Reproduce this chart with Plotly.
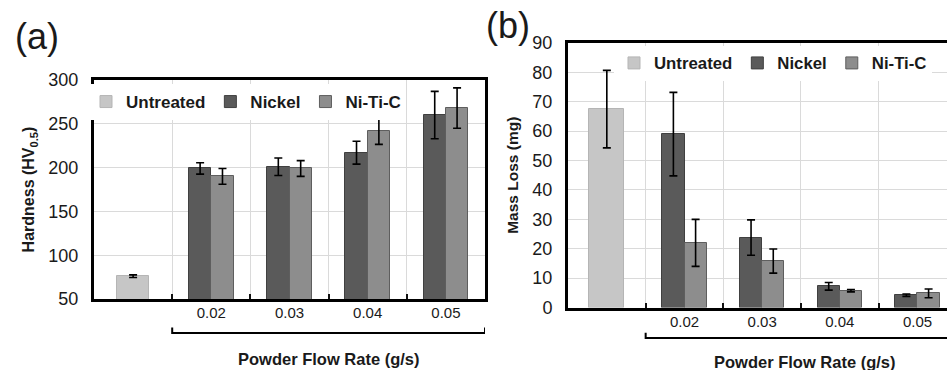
import plotly.graph_objects as go

# ---- data ----
categories = ["Untreated", "0.02", "0.03", "0.04", "0.05"]
flow_rates = ["0.02", "0.03", "0.04", "0.05"]
tick_text = ["", "0.02", "0.03", "0.04", "0.05"]

hard_untreated = [76]
hard_untreated_err = [1.5]
hard_nickel = [199, 201, 217, 260]
hard_nickel_err = [6.5, 10, 13, 27]
hard_nitic = [190, 199, 242, 268]
hard_nitic_err = [9, 9, 15.5, 23]

mass_untreated = [67.5]
mass_untreated_err = [13.2]
mass_nickel = [59, 23.8, 7.2, 4.2]
mass_nickel_err = [14.2, 6, 1.3, 0.4]
mass_nitic = [22, 15.8, 5.7, 4.8]
mass_nitic_err = [8, 4.1, 0.4, 1.5]

hard_ticks = [50, 100, 150, 200, 250, 300]
mass_ticks = [0, 10, 20, 30, 40, 50, 60, 70, 80, 90]

# ---- style ----
FONT = "Liberation Sans"
C_UNT = "#c6c6c6"
C_NI = "#5a5a5a"
C_NTC = "#8d8d8d"
EDGE = "#404040"
GRID = "#dadada"
TXT = "#1a1a1a"
BW = 0.286

fig = go.Figure()

def err(vals):
    return dict(type="data", array=vals, color="black", thickness=1.6, width=4, visible=True)

def add_panel(xa, ya, leg, unt, unt_e, ni, ni_e, ntc, ntc_e, uw):
    fig.add_trace(go.Bar(x=[categories[0]], y=unt, error_y=err(unt_e), name="Untreated",
                         width=uw, offset=-uw / 2, xaxis=xa, yaxis=ya, legend=leg,
                         marker=dict(color=C_UNT, line=dict(color="#b5b5b5", width=1))))
    fig.add_trace(go.Bar(x=flow_rates, y=ni, error_y=err(ni_e), name="Nickel",
                         width=BW, offset=-BW, xaxis=xa, yaxis=ya, legend=leg,
                         marker=dict(color=C_NI, line=dict(color=EDGE, width=1))))
    fig.add_trace(go.Bar(x=flow_rates, y=ntc, error_y=err(ntc_e), name="Ni-Ti-C",
                         width=BW, offset=0, xaxis=xa, yaxis=ya, legend=leg,
                         marker=dict(color=C_NTC, line=dict(color="#5e5e5e", width=1))))

add_panel("x", "y", "legend", hard_untreated, hard_untreated_err, hard_nickel, hard_nickel_err,
          hard_nitic, hard_nitic_err, 0.40)
add_panel("x2", "y2", "legend2", mass_untreated, mass_untreated_err, mass_nickel, mass_nickel_err,
          mass_nitic, mass_nitic_err, 0.45)

xcommon = dict(type="category", categoryorder="array", categoryarray=categories,
               tickmode="array", tickvals=categories, ticktext=tick_text,
               tickson="boundaries", ticks="inside", ticklen=5, tickwidth=2, tickcolor="#111",
               showgrid=True, gridcolor=GRID, gridwidth=1,
               showline=True, linecolor="black", linewidth=3, mirror=True,
               tickfont=dict(family=FONT, size=15, color=TXT), ticklabelstandoff=-2,
               zeroline=False, fixedrange=True, automargin=False)
ycommon = dict(tickmode="array", showgrid=True, gridcolor=GRID, gridwidth=1,
               showline=True, linecolor="black", linewidth=3, ticks="",
               tickfont=dict(family=FONT, size=18, color=TXT), ticklabelstandoff=9,
               zeroline=False, fixedrange=True, automargin=False)

fig.update_layout(
    width=947, height=370, margin=dict(l=0, r=0, t=0, b=0, autoexpand=False),
    paper_bgcolor="white", plot_bgcolor="white",
    barmode="overlay", bargap=0,
    showlegend=True,
    xaxis=dict(xcommon, domain=[94 / 947, 485 / 947], range=[-0.5, 4.5], anchor="y"),
    yaxis=dict(ycommon, domain=[71 / 370, 290 / 370], range=[50, 300], tickvals=hard_ticks,
               mirror=True, anchor="x",
               title=dict(text="Hardness (HV<sub>0.5</sub>)", standoff=10,
                          font=dict(family=FONT, size=16, color=TXT, weight="bold"))),
    xaxis2=dict(xcommon, domain=[568 / 947, 1.0], range=[-0.5, 4.38], anchor="y2"),
    yaxis2=dict(ycommon, domain=[62.5 / 370, 327 / 370], range=[0, 90], tickvals=mass_ticks,
                mirror=False, anchor="x2",
                tickfont=dict(family=FONT, size=18, color=TXT),
                title=dict(text="Mass Loss (mg)", standoff=10,
                           font=dict(family=FONT, size=15.5, color=TXT, weight="bold"))),
    legend=dict(orientation="h", x=86 / 947, xanchor="left", y=(370 - 102) / 370, yanchor="middle",
                xref="container", yref="container",
                bgcolor="white", borderwidth=0,
                font=dict(family=FONT, size=17, color=TXT, weight="bold")),
    legend2=dict(orientation="h", x=614 / 947, xanchor="left", y=(370 - 63) / 370, yanchor="middle",
                 xref="container", yref="container",
                 bgcolor="white", borderwidth=0,
                 font=dict(family=FONT, size=16.8, color=TXT, weight="bold")),
)

# brackets grouping the flow-rate categories
for xr, yr, ytop, ybot in [("x", "y domain", -0.13, -0.155), ("x2", "y2 domain", -0.095, -0.115)]:
    fig.add_shape(type="path", xref=xr, yref=yr,
                  path=f"M 0.5,{ytop} L 0.5,{ybot} L 4.5,{ybot} L 4.5,{ytop}",
                  line=dict(color="black", width=2))

fig.add_annotation(text="Powder Flow Rate (g/s)", xref="x", x=2.5, xanchor="center",
                   yref="paper", y=(370 - 359) / 370, yanchor="middle",
                   showarrow=False, font=dict(family=FONT, size=16.5, color=TXT, weight="bold"))
fig.add_annotation(text="Powder Flow Rate (g/s)", xref="x2", x=2.55, xanchor="center",
                   yref="paper", y=(370 - 362) / 370, yanchor="middle",
                   showarrow=False, font=dict(family=FONT, size=16.5, color=TXT, weight="bold"))
fig.add_annotation(text="(a)", xref="paper", x=13 / 947, xanchor="left", yref="paper",
                   y=(370 - 37) / 370, yanchor="middle", showarrow=False,
                   font=dict(family=FONT, size=36, color=TXT))
fig.add_annotation(text="(b)", xref="paper", x=484 / 947, xanchor="left", yref="paper",
                   y=(370 - 26) / 370, yanchor="middle", showarrow=False,
                   font=dict(family=FONT, size=36, color=TXT))

fig.write_html("out.html")
